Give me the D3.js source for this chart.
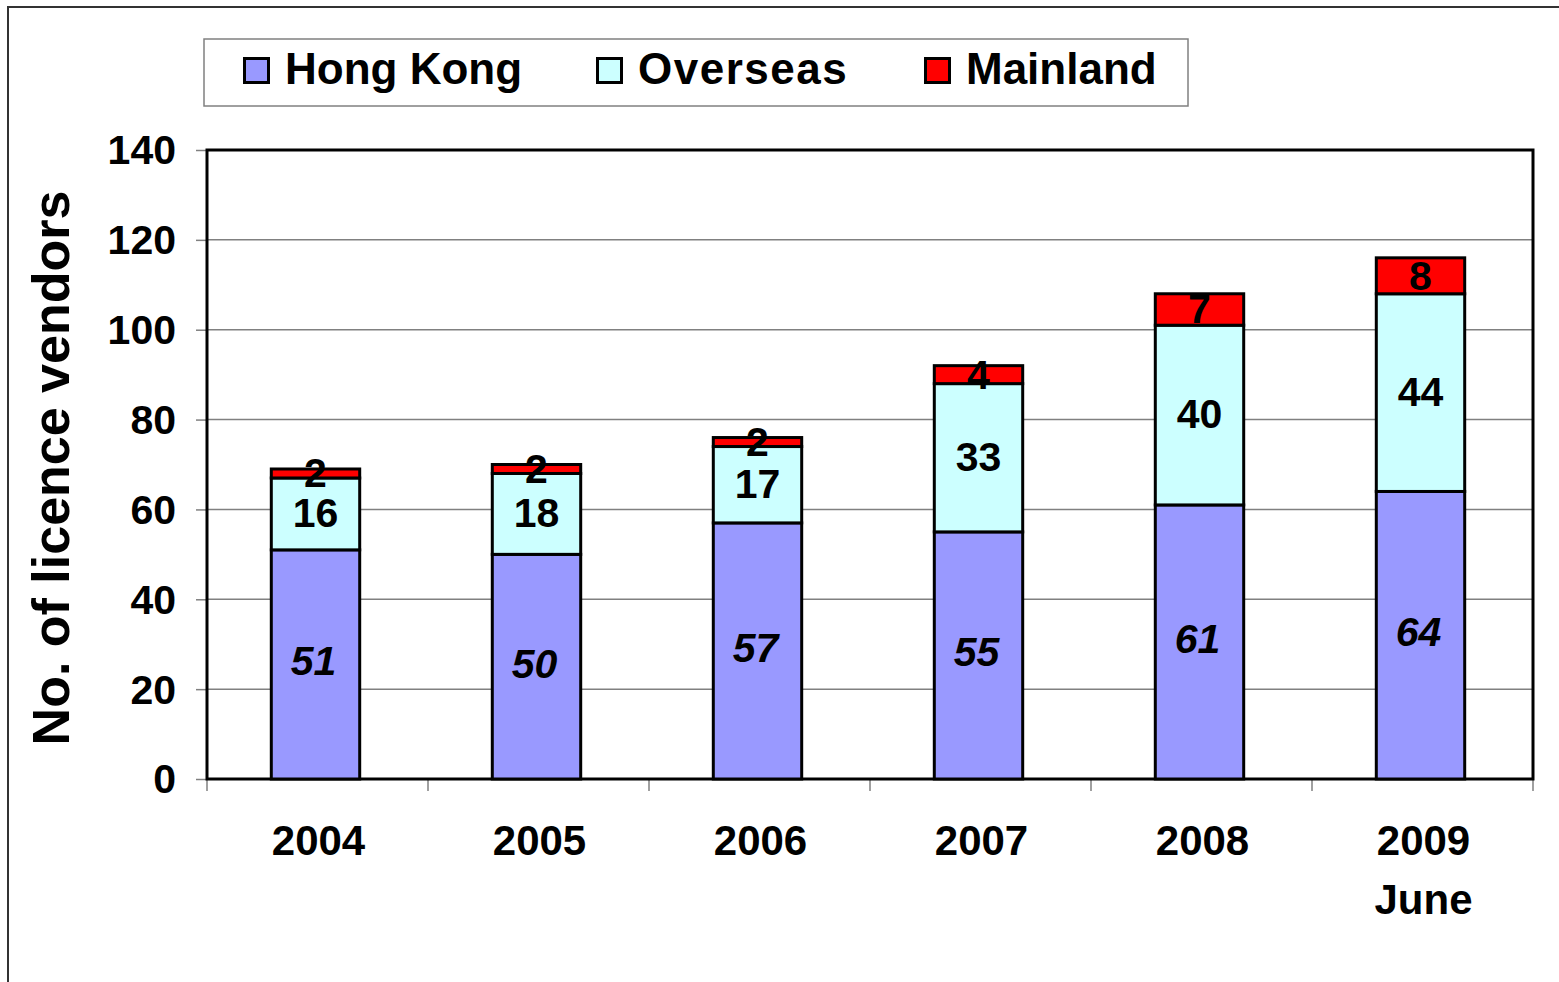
<!DOCTYPE html>
<html>
<head>
<meta charset="utf-8">
<script src="https://cdn.jsdelivr.net/npm/d3@7"></script>
<style>
  body { margin: 0; background: #fff; }
  svg { display: block; font-family: Arial, "Liberation Sans", sans-serif; font-weight: bold; }
</style>
</head>
<body>
<svg id="chart" width="1559" height="982"></svg>
<script>
const years = ['2004', '2005', '2006', '2007', '2008', '2009']
const yearSub = ['', '', '', '', '', 'June']
const hongKong = [51, 50, 57, 55, 61, 64]
const overseas = [16, 18, 17, 33, 40, 44]
const mainland = [2, 2, 2, 4, 7, 8]
const yTicks = [0, 20, 40, 60, 80, 100, 120, 140]

const series = [
    { name: 'Hong Kong', values: hongKong, color: '#9999ff', italic: true, spacing: 0 },
    { name: 'Overseas', values: overseas, color: '#ccffff', italic: false, spacing: 1.5 },
    { name: 'Mainland', values: mainland, color: '#ff0000', italic: false, spacing: 0 }
]

const svg = d3.select('#chart')
const plotLeft = 207, plotRight = 1533, plotTop = 150, plotBottom = 779

// outer frame
svg.append('path')
    .attr('d', 'M8,982 L8,7 L1559,7')
    .attr('fill', 'none')
    .attr('stroke', '#333')
    .attr('stroke-width', 2)

const x = d3.scaleBand()
    .domain(years)
    .range([plotLeft - 2, plotRight - 2])
    .paddingInner(0.6)
    .paddingOuter(0.3)

const y = d3.scaleLinear()
    .domain([0, 140])
    .range([plotBottom, plotTop])

// gridlines
svg.append('g').selectAll('line')
    .data(yTicks.filter(d => d > 0 && d < 140))
    .enter()
    .append('line')
    .attr('x1', plotLeft)
    .attr('x2', plotRight)
    .attr('y1', d => y(d))
    .attr('y2', d => y(d))
    .attr('stroke', '#808080')
    .attr('stroke-width', 1.5)

// y axis
const yAxis = svg.append('g')
    .attr('transform', 'translate(' + plotLeft + ',0)')
    .call(d3.axisLeft(y).tickValues(yTicks).tickSize(11).tickPadding(20))
yAxis.select('.domain').remove()
yAxis.selectAll('line').attr('stroke', '#808080').attr('stroke-width', 1.5)
yAxis.selectAll('text')
    .attr('font-size', '41px')
    .attr('font-family', 'Arial, "Liberation Sans", sans-serif')
    .attr('font-weight', 'bold')
    .attr('fill', '#000')
    .attr('dy', '0.34em')

// x axis ticks at category boundaries
const step = (plotRight - plotLeft) / years.length
const bounds = d3.range(years.length + 1).map(i => plotLeft + i * step)
svg.append('g').selectAll('line')
    .data(bounds)
    .enter()
    .append('line')
    .attr('x1', d => d)
    .attr('x2', d => d)
    .attr('y1', plotBottom)
    .attr('y2', plotBottom + 12)
    .attr('stroke', '#808080')
    .attr('stroke-width', 1.5)

svg.append('g').selectAll('text')
    .data(years)
    .enter()
    .append('text')
    .attr('x', d => x(d) + x.bandwidth() / 2 + 3)
    .attr('y', 855)
    .attr('text-anchor', 'middle')
    .attr('font-size', '42px')
    .text(d => d)
svg.append('g').selectAll('text')
    .data(years)
    .enter()
    .append('text')
    .attr('x', d => x(d) + x.bandwidth() / 2 + 3)
    .attr('y', 914)
    .attr('text-anchor', 'middle')
    .attr('font-size', '42px')
    .text((d, i) => yearSub[i])

// stacked bars
const stackData = years.map((yr, i) => {
    let base = 0
    return series.map(s => {
        const seg = { year: yr, v: s.values[i], y0: base, y1: base + s.values[i], s: s }
        base += s.values[i]
        return seg
    })
})

// plot border
svg.append('rect')
    .attr('x', plotLeft)
    .attr('y', plotTop)
    .attr('width', plotRight - plotLeft)
    .attr('height', plotBottom - plotTop)
    .attr('fill', 'none')
    .attr('stroke', '#000')
    .attr('stroke-width', 3)

const barG = svg.append('g')
stackData.forEach(segs => {
    barG.selectAll(null)
        .data(segs)
        .enter()
        .append('rect')
        .attr('x', d => x(d.year))
        .attr('width', x.bandwidth())
        .attr('y', d => y(d.y1))
        .attr('height', d => y(d.y0) - y(d.y1))
        .attr('fill', d => d.s.color)
        .attr('stroke', '#000')
        .attr('stroke-width', 3)
})

// value labels
const labG = svg.append('g')
stackData.forEach(segs => {
    labG.selectAll(null)
        .data(segs)
        .enter()
        .append('text')
        .attr('x', d => x(d.year) + x.bandwidth() / 2 - (d.s.italic ? 2 : 0))
        .attr('y', d => (y(d.y0) + y(d.y1)) / 2 - (d.s.italic ? 3 : 0) - (d.s.name === 'Overseas' ? 1 : 0))
        .attr('dy', '0.34em')
        .attr('text-anchor', 'middle')
        .attr('font-size', '41px')
        .attr('font-style', d => d.s.italic ? 'italic' : 'normal')
        .attr('fill', '#000')
        .text(d => d.v)
})

// y title
svg.append('text')
    .attr('transform', 'translate(69,468) rotate(-90)')
    .attr('text-anchor', 'middle')
    .attr('font-size', '52px')
    .text('No. of licence vendors')

// legend
const legend = svg.append('g')
legend.append('rect')
    .attr('x', 204)
    .attr('y', 39)
    .attr('width', 984)
    .attr('height', 67)
    .attr('fill', '#fff')
    .attr('stroke', '#808080')
    .attr('stroke-width', 1.5)
const legendX = [243, 596, 924]
const item = legend.selectAll('g.item')
    .data(series)
    .enter()
    .append('g')
    .attr('class', 'item')
    .attr('transform', (d, i) => 'translate(' + legendX[i] + ',0)')
item.append('rect')
    .attr('x', 1.5)
    .attr('y', 58.5)
    .attr('width', 24)
    .attr('height', 24)
    .attr('fill', d => d.color)
    .attr('stroke', '#000')
    .attr('stroke-width', 3)
item.append('text')
    .attr('x', 42)
    .attr('y', 84)
    .attr('font-size', '44px')
    .attr('letter-spacing', d => d.spacing + 'px')
    .text(d => d.name)
</script>
</body>
</html>
